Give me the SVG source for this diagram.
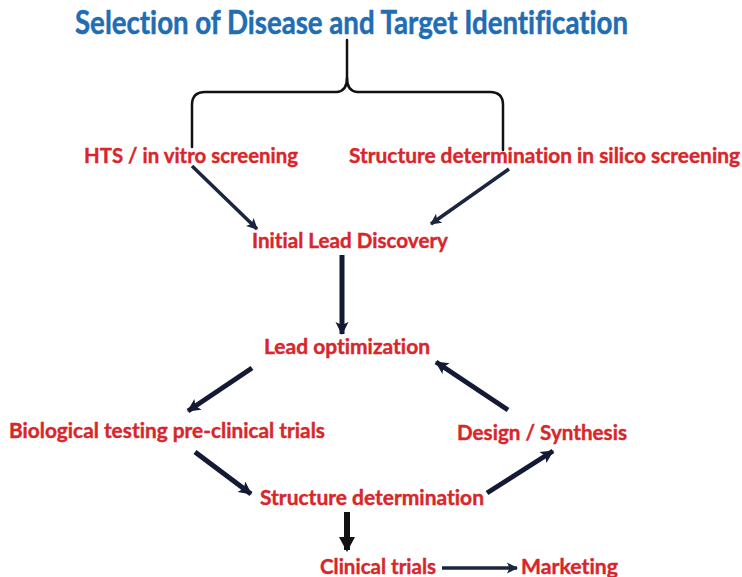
<svg xmlns="http://www.w3.org/2000/svg" width="742" height="577" viewBox="0 0 742 577">
  <style>
    .title { font-family: "Lato", "Open Sans", "Liberation Sans", sans-serif; font-weight: 700; font-size: 33px; fill: #1f6db3; stroke: #1f6db3; stroke-width: 0.5; font-variant-ligatures: none; }
    .lbl { font-family: "Lato", "Open Sans", "Liberation Sans", sans-serif; font-weight: 700; font-size: 21px; fill: #d8262b; stroke: #d8262b; stroke-width: 0.4; font-variant-ligatures: none; }
    .brace { fill: none; stroke: #111111; stroke-width: 2.5; stroke-linejoin: round; stroke-linecap: round; }
    .thin { fill: none; stroke: #1c2540; stroke-width: 3.5; }
    .mid { fill: none; stroke: #141a33; stroke-width: 5; }
    .thick { fill: none; stroke: #121212; stroke-width: 6; }
  </style>
  <defs>
    <marker id="headS" markerUnits="userSpaceOnUse" markerWidth="14" markerHeight="14" refX="11" refY="7" orient="auto">
      <path d="M1,1.5 L12,7 L1,12.5 L3.5,7 Z" fill="#1c2540"/>
    </marker>
    <marker id="headM" markerUnits="userSpaceOnUse" markerWidth="16" markerHeight="16" refX="13" refY="8" orient="auto">
      <path d="M1,1.5 L14,8 L1,14.5 L4,8 Z" fill="#141a33"/>
    </marker>
    <marker id="headL" markerUnits="userSpaceOnUse" markerWidth="18" markerHeight="18" refX="14" refY="9" orient="auto">
      <path d="M1,1 L16,9 L1,17 Z" fill="#121212"/>
    </marker>
  </defs>

  <g id="title">
    <text class="title" x="75" y="34" textLength="553" lengthAdjust="spacingAndGlyphs">Selection of Disease and Target Identification</text>
  </g>

  <!-- curly brace splitting the two screening routes -->
  <g id="brace">
    <path class="brace" d="M347,40 L347,78 Q347,91 337,92 L205,92 Q192,92 192,105 L192,147"/>
    <path class="brace" d="M347,78 Q347,91 357,92 L490,92 Q503,92 503,105 L503,150"/>
  </g>

  <g id="hts">
    <text class="lbl" x="84" y="163" textLength="214" lengthAdjust="spacingAndGlyphs">HTS / in vitro screening</text>
  </g>
  <g id="in-silico">
    <text class="lbl" x="349" y="163" textLength="391" lengthAdjust="spacingAndGlyphs">Structure determination in silico screening</text>
  </g>
  <g id="initial-lead">
    <text class="lbl" x="252" y="248" textLength="196" lengthAdjust="spacingAndGlyphs">Initial Lead Discovery</text>
  </g>
  <g id="lead-opt">
    <text class="lbl" x="264" y="354" textLength="166" lengthAdjust="spacingAndGlyphs">Lead optimization</text>
  </g>
  <g id="bio-testing">
    <text class="lbl" x="9" y="438" textLength="316" lengthAdjust="spacingAndGlyphs">Biological testing pre-clinical trials</text>
  </g>
  <g id="design">
    <text class="lbl" x="457" y="440" textLength="170" lengthAdjust="spacingAndGlyphs">Design / Synthesis</text>
  </g>
  <g id="structure">
    <text class="lbl" x="260" y="505" textLength="224" lengthAdjust="spacingAndGlyphs">Structure determination</text>
  </g>
  <g id="clinical">
    <text class="lbl" x="320" y="574" textLength="116" lengthAdjust="spacingAndGlyphs">Clinical trials</text>
  </g>
  <g id="marketing">
    <text class="lbl" x="521" y="574" textLength="97" lengthAdjust="spacingAndGlyphs">Marketing</text>
  </g>

  <g id="connectors">
    <line class="thin" x1="192" y1="166" x2="257" y2="229" marker-end="url(#headS)"/>
    <line class="thin" x1="509" y1="169" x2="431" y2="224" marker-end="url(#headS)"/>
    <line class="mid" x1="342" y1="255" x2="342" y2="334" marker-end="url(#headM)"/>
    <line class="mid" x1="252" y1="368" x2="188" y2="411" marker-end="url(#headM)"/>
    <line class="mid" x1="508" y1="410" x2="436" y2="362" marker-end="url(#headM)"/>
    <line class="mid" x1="195" y1="452" x2="251" y2="494" marker-end="url(#headM)"/>
    <line class="mid" x1="487" y1="493" x2="553" y2="451" marker-end="url(#headM)"/>
    <line class="thick" x1="347" y1="512" x2="347" y2="550" marker-end="url(#headL)"/>
    <line class="thin" x1="442" y1="568" x2="517" y2="568" marker-end="url(#headS)"/>
  </g>
</svg>
